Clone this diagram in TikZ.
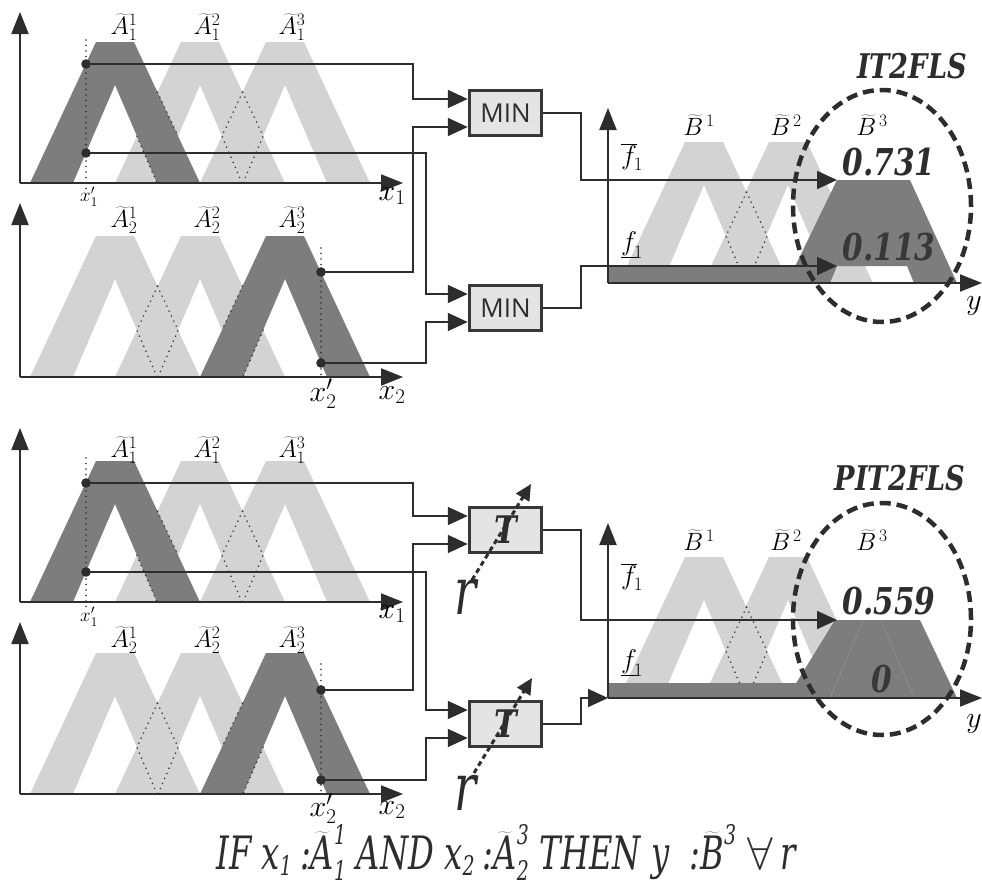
\RequirePackage{fix-cm}
\documentclass[tikz,border=0pt]{standalone}
\usepackage{fontspec}
\usetikzlibrary{arrows.meta}
\newfontfamily\condA[FakeStretch=0.8]{DejaVu Serif}
\newfontfamily\condB[FakeStretch=0.7]{DejaVu Serif}
\newfontfamily\minfont{Open Sans}
\definecolor{ink}{RGB}{45,45,45}
\definecolor{darkg}{RGB}{125,125,125}
\definecolor{lightg}{RGB}{211,211,211}
\definecolor{boxfill}{RGB}{228,228,228}
\definecolor{boxframe}{RGB}{55,55,55}
\definecolor{faint}{RGB}{140,140,140}
\newcommand\fzband[3]{\fill[#3] (#1-85,#2) -- (#1-19,#2-141) -- (#1+19,#2-141) -- (#1+85,#2) -- cycle (#1-42,#2) -- (#1,#2-98) -- (#1+42,#2) -- cycle;}
\newcommand\dmfull[2]{\draw[dotline] (#1+42.5,#2-90.8) -- (#1+63.1,#2-46.8) -- (#1+43,#2);
 \draw[dotline] (#1+42.5,#2-90.8) -- (#1+21.9,#2-46.8) -- (#1+42,#2);}
\newcommand\dmleft[2]{\draw[dotline] (#1+42.5,#2-90.8) -- (#1+63.1,#2-46.8);
 \draw[dotline] (#1+21.9,#2-46.8) -- (#1+42,#2);}
\newcommand\dmright[2]{\draw[dotline] (#1+42.5,#2-90.8) -- (#1+21.9,#2-46.8);
 \draw[dotline] (#1+63.1,#2-46.8) -- (#1+43,#2);}
\newcommand\subsz{\fontsize{27}{27}\selectfont}
\newcommand\FA[2]{$\widetilde{\mbox{A}}^{\mbox{\subsz #1}}_{\mbox{\subsz #2}}$}
\newcommand\FB[1]{$\widetilde{\mbox{B}}^{\mbox{\subsz #1}}$}
\begin{document}
\begin{tikzpicture}[x=1pt,y=-1pt,
  axisline/.style={line width=2pt, draw=ink, -{Triangle[length=22pt,width=17pt]}},
  conn/.style={line width=1.8pt, draw=ink},
  connarr/.style={conn, -{Triangle[length=20pt,width=18pt]}},
  lightband/.style={fill=lightg, even odd rule},
  darkband/.style={fill=darkg, even odd rule},
  dotline/.style={line width=1.7pt, dash pattern=on 0pt off 5.5pt, line cap=round, draw=ink},
  opbox/.style={draw=boxframe, line width=3.5pt, fill=boxfill, minimum width=72pt, minimum height=45pt, inner sep=0pt},
  ellring/.style={draw=ink, line width=4.5pt, dash pattern=on 11pt off 6pt},
  rarrow/.style={line width=3pt, dash pattern=on 5pt off 3.5pt, draw=ink, -{Triangle[length=16pt,width=15pt]}},
  mflab/.style={font=\fontsize{25}{25}\selectfont, inner sep=0pt},
  xlab/.style={font=\fontsize{30}{30}\selectfont, inner sep=0pt},
  xslab/.style={font=\fontsize{19}{19}\selectfont, inner sep=0pt},
  blab/.style={font=\fontsize{25}{25}\selectfont, inner sep=0pt},
  flab/.style={font=\fontsize{27}{27}\selectfont, inner sep=0pt},
  ylab/.style={font=\fontsize{30}{30}\selectfont, inner sep=0pt},
  numlab/.style={font=\condA\bfseries\itshape\fontsize{37}{37}\selectfont, inner sep=0pt},
  syslab/.style={font=\condA\bfseries\itshape\fontsize{34}{34}\selectfont, inner sep=0pt},
  rlab/.style={font=\condB\itshape\fontsize{66}{66}\selectfont, inner sep=0pt, text=ink},
]
\useasboundingbox (0,0) rectangle (982,886);

% ---------- input panel 1 (x1, IT2FLS) ----------
\fzband{200}{183}{lightband}
\fzband{285}{183}{lightband}
\fzband{115}{183}{darkband}
\dmfull{200}{183}
\dmleft{115}{183}
\draw[dotline] (86,40) -- (86,190);
% ---------- input panel 2 (x2, IT2FLS) ----------
\fzband{115}{377}{lightband}
\fzband{200}{377}{lightband}
\fzband{285}{377}{darkband}
\dmfull{115}{377}
\dmright{200}{377}
\draw[dotline] (321,248) -- (321,378);
% ---------- input panel 3 (x1, PIT2FLS) ----------
\fzband{200}{602}{lightband}
\fzband{285}{602}{lightband}
\fzband{115}{602}{darkband}
\dmfull{200}{602}
\dmleft{115}{602}
\draw[dotline] (86,458) -- (86,610);
% ---------- input panel 4 (x2, PIT2FLS) ----------
\fzband{115}{794}{lightband}
\fzband{200}{794}{lightband}
\fzband{285}{794}{darkband}
\dmfull{115}{794}
\dmright{200}{794}
\draw[dotline] (321,664) -- (321,795);

% ---------- output panel IT2FLS ----------
\fzband{704}{283}{lightband}
\fzband{788}{283}{lightband}
\dmfull{704}{283}
\fill[darkband] (787,283) -- (837,180) -- (910,180) -- (957,283) -- cycle
                (830,283) -- (837,266) -- (907,266) -- (914,283) -- cycle;
\fill[darkg] (608,266) rectangle (797,283);
% ---------- output panel PIT2FLS ----------
\fzband{704}{698}{lightband}
\fzband{788}{698}{lightband}
\dmfull{704}{698}
\fill[darkg] (787,698) -- (835,620) -- (920,620) -- (957,698) -- cycle;
\draw[faint, line width=0.8pt] (863,620) -- (830,698) (881,620) -- (914,698);
\fill[darkg] (608,683) rectangle (797,698);

% ---------- axes ----------
\draw[axisline] (20,183) -- (20,12);
\draw[axisline] (20,183) -- (403,183);
\draw[axisline] (20,377) -- (20,203);
\draw[axisline] (20,377) -- (403,377);
\draw[axisline] (20,602) -- (20,428);
\draw[axisline] (20,602) -- (403,602);
\draw[axisline] (20,794) -- (20,622);
\draw[axisline] (20,794) -- (403,794);
\draw[axisline] (608,283) -- (608,108);
\draw[axisline] (608,283) -- (982,283);
\draw[axisline] (608,698) -- (608,523);
\draw[axisline] (608,698) -- (982,698);

% ---------- firing points ----------
\coordinate (p1a) at (86,64);
\coordinate (p1b) at (86,153);
\coordinate (p2a) at (321,272);
\coordinate (p2b) at (321,363);
\coordinate (p3a) at (86,483);
\coordinate (p3b) at (86,572);
\coordinate (p4a) at (321,690);
\coordinate (p4b) at (321,780);
\coordinate (up1) at (837,180);
\coordinate (lo1) at (837,266);
\coordinate (up2) at (837,620);
\coordinate (lo2) at (608,698);

% ---------- operator boxes ----------
\node[opbox, font=\minfont\fontsize{26}{26}\selectfont, text=ink] (m1) at (505.5,113) {MIN};
\node[opbox, font=\minfont\fontsize{26}{26}\selectfont, text=ink] (m2) at (505.5,308) {MIN};
\node[opbox, font=\condA\bfseries\itshape\fontsize{38}{38}\selectfont, text=ink] (t1) at (505.5,530) {T};
\node[opbox, font=\condA\bfseries\itshape\fontsize{38}{38}\selectfont, text=ink] (t2) at (505.5,724) {T};

% ---------- connectors ----------
\draw[connarr] (p1a) -| (413,99) -- ([yshift=14pt]m1.west);
\draw[connarr] (p2a) -| (413,127) -- ([yshift=-14pt]m1.west);
\draw[connarr] (p1b) -| (426,294) -- ([yshift=14pt]m2.west);
\draw[connarr] (p2b) -| (426,322) -- ([yshift=-14pt]m2.west);
\draw[connarr] (m1.east) -| (581,180) -- (up1);
\draw[connarr] (m2.east) -| (581,266) -- (lo1);
\draw[connarr] (p3a) -| (413,516) -- ([yshift=14pt]t1.west);
\draw[connarr] (p4a) -| (413,544) -- ([yshift=-14pt]t1.west);
\draw[connarr] (p3b) -| (426,710) -- ([yshift=14pt]t2.west);
\draw[connarr] (p4b) -| (426,738) -- ([yshift=-14pt]t2.west);
\draw[connarr] (t1.east) -| (581,620) -- (up2);
\draw[connarr] (t2.east) -| (581,698) -- (lo2);
\foreach \p in {p1a,p1b,p2a,p2b,p3a,p3b,p4a,p4b} \fill[ink] (\p) circle (4.8pt);

% ---------- parameter r ----------
\coordinate (r1s) at (472,580);
\coordinate (r1e) at (531,484);
\coordinate (r2s) at (474,773);
\coordinate (r2e) at (532,678);
\draw[rarrow] (r1s) -- (r1e);
\draw[rarrow] (r2s) -- (r2e);
\node[rlab] (rl1) at (466,597) {r};
\node[rlab] (rl2) at (466,793) {r};

% ---------- input labels ----------
\foreach \yy in {27, 450} {
  \node[mflab] at (124,\yy) {$\widetilde{A}^{1}_{1}$};
  \node[mflab] at (207,\yy) {$\widetilde{A}^{2}_{1}$};
  \node[mflab] at (292,\yy) {$\widetilde{A}^{3}_{1}$};
}
\foreach \yy in {220, 640} {
  \node[mflab] at (124,\yy) {$\widetilde{A}^{1}_{2}$};
  \node[mflab] at (207,\yy) {$\widetilde{A}^{2}_{2}$};
  \node[mflab] at (292,\yy) {$\widetilde{A}^{3}_{2}$};
}
\node[xslab] (xp1a) at (89,197) {$x'_1$};
\node[xslab] (xp1b) at (89,617) {$x'_1$};
\node[xlab] (x1a) at (392,196) {$x_1$};
\node[xlab] (x1b) at (392,614) {$x_1$};
\node[xlab] (xp2a) at (323,394) {$x'_2$};
\node[xlab] (xp2b) at (323,809) {$x'_2$};
\node[xlab] (x2a) at (392,395) {$x_2$};
\node[xlab] (x2b) at (392,810) {$x_2$};

% ---------- output labels ----------
\foreach \yy in {125, 540} {
  \node[blab] at (699,\yy) {$\widetilde{B}^{\,1}$};
  \node[blab] at (786,\yy) {$\widetilde{B}^{\,2}$};
  \node[blab] at (872,\yy) {$\widetilde{B}^{\,3}$};
}
\node[flab] (fu1) at (632,157) {$\overline{f}_{\!1}$};
\node[flab] (fl1) at (632,245) {$\underline{f}_{\!1}$};
\node[flab] (fu2) at (632,577) {$\overline{f}_{\!1}$};
\node[flab] (fl2) at (632,663) {$\underline{f}_{\!1}$};
\node[ylab] (ya) at (974,306) {$y$};
\node[ylab] (yb) at (974,724) {$y$};
\node[numlab, text=ink] (n1) at (889,162) {0.731};
\node[numlab, text=black!78] (n2) at (889,247) {0.113};
\node[numlab, text=ink] (n3) at (889,601) {0.559};
\node[numlab, text=black!78] (n4) at (882,679) {0};
\node[syslab, text=ink] (s1) at (912,66) {IT2FLS};
\node[syslab, text=ink] (s2) at (900,478) {PIT2FLS};
\draw[ellring] (882,206) ellipse [x radius=89pt, y radius=116pt];
\draw[ellring] (882,619) ellipse [x radius=89pt, y radius=116pt];

% ---------- rule ----------
\node[anchor=base, inner sep=0pt, text=ink, font=\condB\itshape\fontsize{46}{46}\selectfont] (rule) at (506,869)
  {IF x$_{\mbox{\subsz 1}}$\,:\FA{1}{1} AND x$_{\mbox{\subsz 2}}$\,:\FA{3}{2} THEN y\ \ :\FB{3} $\forall$\,r};
\end{tikzpicture}
\end{document}
